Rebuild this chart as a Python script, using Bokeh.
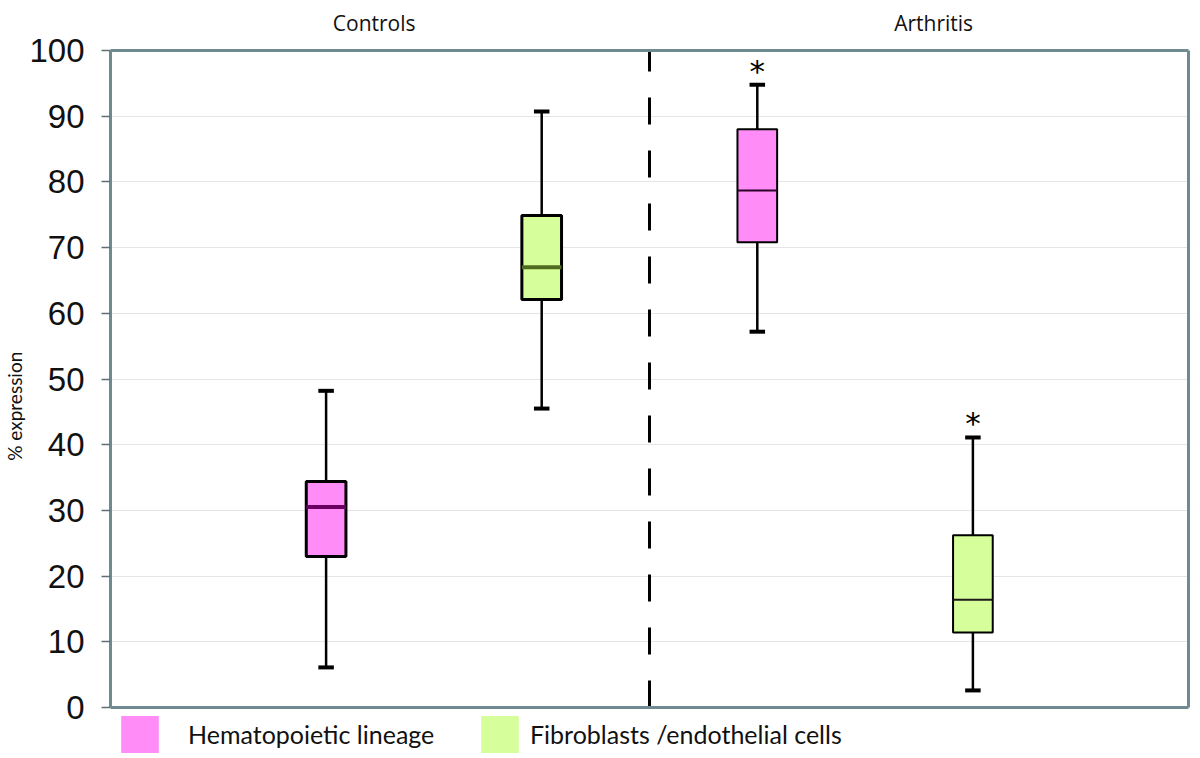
from bokeh.plotting import figure
from bokeh.models import (ColumnDataSource, Legend, LegendItem, FixedTicker, Range1d,
                          LinearAxis, BoxAnnotation)
from bokeh.embed import file_html
from bokeh.resources import INLINE
from bokeh.core.properties import value

# ---- data ----
conditions = ["Controls", "Arthritis"]
lineages = ["Hematopoietic lineage", "Fibroblasts /endothelial cells"]
box_condition = ["Controls", "Controls", "Arthritis", "Arthritis"]
box_lineage = ["Hematopoietic lineage", "Fibroblasts /endothelial cells",
               "Hematopoietic lineage", "Fibroblasts /endothelial cells"]
whisker_low = [6.1, 45.5, 57.2, 2.6]
q1 = [23.0, 62.1, 70.8, 11.4]
median = [30.5, 67.0, 78.7, 16.4]
q3 = [34.4, 74.9, 88.0, 26.2]
whisker_high = [48.2, 90.7, 94.8, 41.1]
significant = [False, False, True, True]
y_ticks = [0, 10, 20, 30, 40, 50, 60, 70, 80, 90, 100]

# ---- styles ----
PINK = "#ff8cf7"
GREEN = "#d6fe9a"
FRAME = "#6f8a91"
fill_by_lineage = {lineages[0]: PINK, lineages[1]: GREEN}
median_color = ["#6b0063", "#4f6b1f", "#2a0028", "#1a1a1a"]
median_width = [4, 4, 2, 2]
box_line_width = [3, 3, 2, 2]
cap_width = [4, 4, 4, 4]

# ---- layout geometry (pixels) ----
W, H = 1200, 758
BORDER_L, BORDER_R = 109, 12
PLOT_TOP_PX, PLOT_BOTTOM_PX = 50, 707          # where y=100 and y=0 sit
y_lo, y_hi = y_ticks[0], y_ticks[-1]
px_per_unit = (PLOT_BOTTOM_PX - PLOT_TOP_PX) / (y_hi - y_lo)
y_range = Range1d(y_lo - (H - PLOT_BOTTOM_PX) / px_per_unit,
                  y_hi + PLOT_TOP_PX / px_per_unit)
x_range = Range1d(0, 5)

pos = [i + 1 for i in range(len(q1))]
half_box = 0.092
half_cap = 0.036

src = ColumnDataSource(dict(
    x=pos,
    left=[p - half_box for p in pos],
    right=[p + half_box for p in pos],
    cap_l=[p - half_cap for p in pos],
    cap_r=[p + half_cap for p in pos],
    low=whisker_low, q1=q1, med=median, q3=q3, high=whisker_high,
    fill=[fill_by_lineage[l] for l in box_lineage],
    mcol=median_color, mw=median_width, bw=box_line_width, cw=cap_width,
))

p = figure(width=W, height=H, output_backend="svg", toolbar_location=None,
           x_range=x_range, y_range=y_range, x_axis_type=None,
           min_border_left=BORDER_L, min_border_right=BORDER_R,
           min_border_top=0, min_border_bottom=0)
p.outline_line_color = None
p.xgrid.visible = False
p.ygrid.grid_line_color = "#e4e6e6"
p.ygrid.grid_line_width = 1

# left axis (bounded to 0..100)
p.yaxis.bounds = (y_lo, y_hi)
p.yaxis.ticker = FixedTicker(ticks=y_ticks)
p.yaxis.axis_line_color = FRAME
p.yaxis.axis_line_width = 3
p.yaxis.major_tick_line_color = "#5f6f74"
p.yaxis.major_tick_line_width = 1.5
p.yaxis.major_tick_in = 0
p.yaxis.major_tick_out = 9
p.yaxis.minor_tick_line_color = None
p.yaxis.major_label_text_font = "Liberation Sans"
p.yaxis.major_label_text_font_size = "33px"
p.yaxis.major_label_text_color = "#111111"
p.yaxis.major_label_standoff = 17
p.yaxis.axis_label = "% expression" + "\u00a0" * 11
p.yaxis.axis_label_text_font = "Lato"
p.yaxis.axis_label_text_font_size = "19px"
p.yaxis.axis_label_text_font_style = "normal"
p.yaxis.axis_label_text_color = "#111111"
p.yaxis.axis_label_standoff = 0

# right border as a bare bounded axis
right_axis = LinearAxis(bounds=(y_lo, y_hi), ticker=FixedTicker(ticks=[]),
                        axis_line_color=FRAME, axis_line_width=3,
                        major_tick_line_color=None, minor_tick_line_color=None,
                        major_label_text_font_size="0px")
p.add_layout(right_axis, "right")

# top/bottom frame edges
p.add_layout(BoxAnnotation(left=x_range.start, right=x_range.end, bottom=y_lo, top=y_hi,
                           fill_alpha=0, line_color=FRAME, line_width=3, line_alpha=1))

# divider between the two conditions
divider_x = (pos[1] + pos[2]) / 2
p.segment(x0=[divider_x], y0=[y_lo], x1=[divider_x], y1=[y_hi],
          line_color="black", line_width=3, line_dash="27 26")

# whiskers
p.segment(x0="x", y0="q3", x1="x", y1="high", source=src, line_color="black", line_width=2.5)
p.segment(x0="x", y0="low", x1="x", y1="q1", source=src, line_color="black", line_width=2.5)
p.segment(x0="cap_l", y0="high", x1="cap_r", y1="high", source=src, line_color="black", line_width="cw")
p.segment(x0="cap_l", y0="low", x1="cap_r", y1="low", source=src, line_color="black", line_width="cw")

# legend swatch renderer (outline-free copy of the boxes, hidden under them)
swatch = p.quad(left="left", right="right", bottom="q1", top="q3", source=src,
                fill_color="fill", line_alpha=0)

# boxes
boxes = p.quad(left="left", right="right", bottom="q1", top="q3", source=src,
               fill_color="fill", line_color="black", line_width="bw")
p.segment(x0="left", y0="med", x1="right", y1="med", source=src,
          line_color="mcol", line_width="mw")

# significance asterisks
sig_x = [x for x, s in zip(pos, significant) if s]
sig_y = [h for h, s in zip(whisker_high, significant) if s]
p.text(x=sig_x, y=sig_y, text=["*"] * len(sig_x), text_align="center",
       text_baseline="middle", y_offset=-14, text_font=value("DejaVu Sans"),
       text_font_size="31px", text_color="black")

# condition headers above the plot box
header_x = [1.223, 3.818]
header_y = y_hi + (PLOT_TOP_PX - 22) / px_per_unit
p.text(x=header_x, y=[header_y] * len(header_x), text=conditions, text_align="center",
       text_baseline="middle", text_font=value("Open Sans"),
       text_font_size="21px", text_color="#111111")

# legend below the plot box
leg_x = [6, 366]
leg_standoff = [25, 7]
for i, name in enumerate(lineages):
    idx = box_lineage.index(name)
    leg = Legend(items=[LegendItem(label=name, renderers=[swatch], index=idx)],
                 location=(leg_x[i], 1),
                 orientation="horizontal", glyph_width=47, glyph_height=46,
                 label_height=46, label_standoff=leg_standoff[i], padding=0, margin=0,
                 border_line_alpha=0, background_fill_alpha=0,
                 label_text_font="Lato", label_text_font_size="25px",
                 label_text_color="#111111")
    p.add_layout(leg)

open("out.html", "w").write(file_html(p, INLINE))
